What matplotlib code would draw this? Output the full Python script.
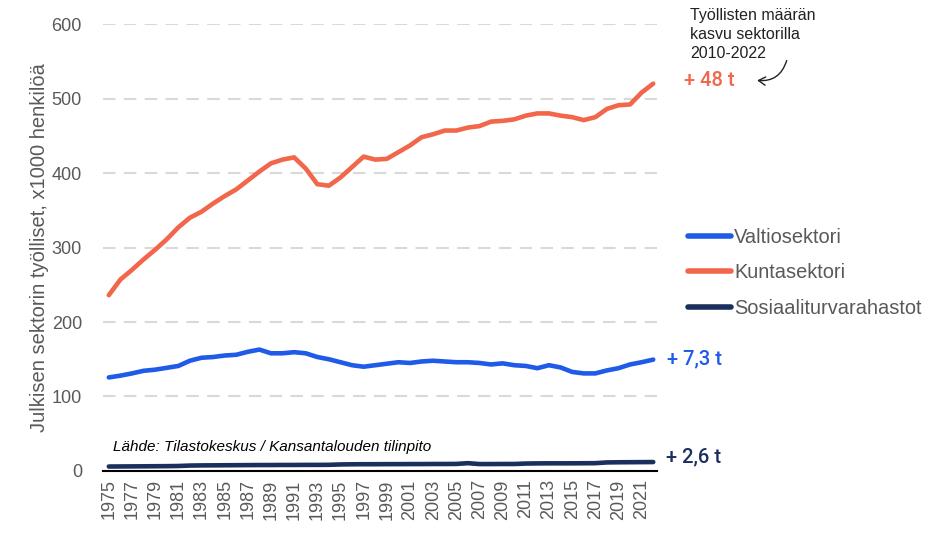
import matplotlib.pyplot as plt
from matplotlib.patches import FancyArrowPatch

# --- Data: public sector employees, x1000 persons ---
years = list(range(1975, 2023))

kunta = [236, 257, 270, 284, 297, 311, 327, 340, 348, 359, 369, 378,
         390, 402, 413, 418, 421, 406, 385, 383, 394, 408, 422, 418,
         419, 428, 437, 448, 452, 457, 457, 461, 463, 469, 470, 472,
         477, 480, 480, 477, 475, 471, 475, 486, 491, 492, 508, 520]

valtio = [125.6, 128, 131, 134.5, 136, 138.5, 141, 148, 152, 153, 155, 156,
          160, 163, 158, 158, 159.5, 158, 153, 150, 146, 142, 140, 142,
          144, 146, 145, 147, 148, 147, 146, 146, 145, 143, 144.5, 142,
          141, 138, 142, 139, 133, 131, 131, 135, 138, 143, 146, 149.5]

sosiaali = [6.0, 6.1, 6.2, 6.3, 6.4, 6.5, 6.7, 7.3, 7.5, 7.6, 7.7, 7.8,
            7.9, 8.0, 8.0, 8.1, 8.1, 8.2, 8.2, 8.3, 8.8, 9.0, 9.1, 9.1,
            9.2, 9.2, 9.3, 9.3, 9.4, 9.4, 9.5, 10.5, 9.3, 9.3, 9.4, 9.4,
            10.0, 10.2, 10.3, 10.3, 10.3, 10.4, 10.5, 11.5, 11.7, 11.8, 11.9, 12.0]

series_names = ["Valtiosektori", "Kuntasektori", "Sosiaaliturvarahastot"]
growth_labels = ["+ 7,3 t", "+ 48 t", "+ 2,6 t"]

c_valtio = "#1F5BE8"
c_kunta = "#F2664B"
c_sos = "#1B2F5E"
grey = "#595959"

plt.rcParams['font.family'] = ['Liberation Sans', 'DejaVu Sans']

fig = plt.figure(figsize=(9.43, 5.41), dpi=100)
ax = fig.add_axes([0.109, 0.1294, 0.588, 0.8262])

ax.plot(years, valtio, color=c_valtio, lw=3.3, solid_capstyle='round', label=series_names[0])
ax.plot(years, kunta, color=c_kunta, lw=3.3, solid_capstyle='round', label=series_names[1])
ax.plot(years, sosiaali, color=c_sos, lw=3.3, solid_capstyle='round', label=series_names[2])

ax.set_xlim(1974.48, 2022.35)
ax.set_ylim(0, 600)
ax.set_yticks(range(0, 601, 100))
ax.set_xticks(range(1975, 2022, 2))
ax.set_xticklabels([str(y) for y in range(1975, 2022, 2)], rotation=90)
ax.tick_params(axis='both', length=0, colors=grey, labelsize=13)
ax.tick_params(axis='y', pad=15)
ax.tick_params(axis='x', pad=6)

for s in ["left", "right", "top"]:
    ax.spines[s].set_visible(False)
ax.spines["bottom"].set_color("black")
ax.spines["bottom"].set_linewidth(1.5)
ax.spines["bottom"].set_zorder(1)

ax.yaxis.grid(True, color="#D9D9D9", linestyle=(0, (6, 4)), linewidth=1.5)
ax.set_axisbelow(True)

ax.set_ylabel("Julkisen sektorin työlliset, x1000 henkilöä", color=grey, fontsize=14.5, labelpad=2)

ax.text(1975.4, 27, "Lähde: Tilastokeskus / Kansantalouden tilinpito",
        fontsize=11, style='italic', color="black")

leg = fig.legend(loc='upper left', bbox_to_anchor=(0.721, 0.594), frameon=False,
                 fontsize=14.4, handlelength=2.15, handletextpad=0.15, labelspacing=0.83,
                 labelcolor=grey, borderaxespad=0)
for h in leg.get_lines():
    h.set_linewidth(4)

# growth labels at end of each line
lab_font = ['Roboto', 'DejaVu Sans']
ax.text(2024.7, 524, growth_labels[1], color=c_kunta, fontsize=14.5, va='center',
        family=lab_font, fontweight='medium')
ax.text(2023.2, 151, growth_labels[0], color=c_valtio, fontsize=14.5, va='center',
        family=lab_font, fontweight='medium')
ax.text(2023.1, 19, growth_labels[2], color=c_sos, fontsize=14.5, va='center',
        family=lab_font, fontweight='medium')

fig.text(0.732, 0.985, "Työllisten määrän\nkasvu sektorilla\n2010-2022", fontsize=11.5,
         va='top', ha='left', color="#222222", linespacing=1.32)

arrow = FancyArrowPatch((0.835, 0.893), (0.800, 0.852), transform=fig.transFigure,
                        connectionstyle="arc3,rad=-0.45", arrowstyle="->,head_length=5,head_width=3",
                        color="#222222", lw=1)
fig.patches.append(arrow)

fig.savefig("out.png", dpi=100)
